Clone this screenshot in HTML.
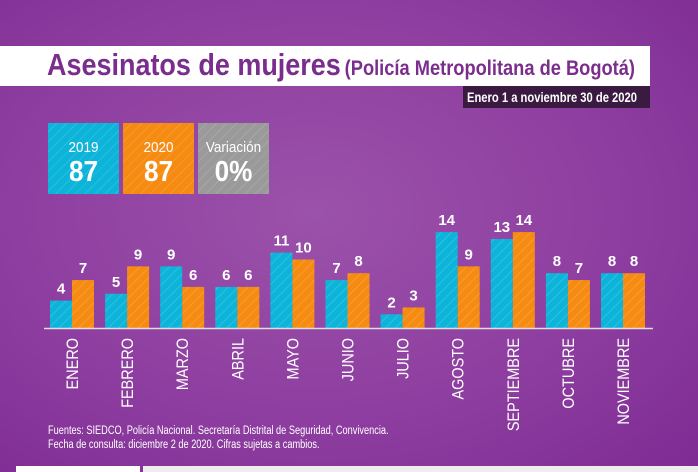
<!DOCTYPE html>
<html><head><meta charset="utf-8"><style>
body{margin:0;width:698px;height:472px;overflow:hidden;font-family:"Liberation Sans",sans-serif;}
#bg{position:absolute;left:0;top:0;width:698px;height:472px;background:radial-gradient(ellipse at 45% 45%,#9b52aa 0%,#8e3ea0 55%,#7e2b93 100%);}
.abs{position:absolute}
.box{position:absolute;top:123px;width:71px;height:71px;color:#fff;text-align:center;background-image:repeating-linear-gradient(135deg,rgba(255,255,255,0) 0 6px,rgba(255,255,255,0.12) 6px 7px);}
.box .y{font-size:15px;margin-top:16px;transform:scaleX(0.9)}
.box .v{font-size:29px;font-weight:bold;margin-top:0px;transform:scaleX(0.9)}
</style></head><body>
<div id="bg"></div>
<div class="abs" style="left:0;top:46px;width:650px;height:40px;background:#fff"></div>
<div class="abs" style="left:47px;top:47px;width:620px;white-space:nowrap;color:#7b2d8e;transform:scaleX(0.87);transform-origin:left;">
<span style="font-size:31px;font-weight:bold">Asesinatos de mujeres</span> <span style="font-size:21px;font-weight:bold">(Policía Metropolitana de Bogotá)</span></div>
<div class="abs" style="left:463px;top:86px;width:187px;height:22px;background:#3b1a42;color:#fff;font-size:14px;font-weight:bold;line-height:22px;white-space:nowrap;"><span style="display:inline-block;transform:scaleX(0.8);transform-origin:left;margin-left:4px">Enero 1 a noviembre 30 de 2020</span></div>
<div class="box" style="left:48px;background-color:#0db4d9"><div class="y">2019</div><div class="v">87</div></div>
<div class="box" style="left:123px;background-color:#f68b12"><div class="y">2020</div><div class="v">87</div></div>
<div class="box" style="left:198px;background-color:#9a9a9a"><div class="y">Variación</div><div class="v">0%</div></div>
<svg class="abs" style="left:0;top:0" width="698" height="472" id="chart">
<defs><pattern id="hatch" width="7" height="7" patternUnits="userSpaceOnUse" patternTransform="rotate(45)"><rect width="1" height="7" fill="rgba(255,255,255,0.15)"/></pattern></defs>
</svg>
<div class="abs" style="left:48px;top:424px;color:#fff;font-size:11.5px;line-height:14px;white-space:nowrap;transform:scaleX(0.8);transform-origin:left;">Fuentes: SIEDCO, Policía Nacional. Secretaría Distrital de Seguridad, Convivencia.<br>Fecha de consulta: diciembre 2 de 2020. Cifras sujetas a cambios.</div>
<div class="abs" style="left:16px;top:466px;width:124px;height:6px;background:#fff"></div>
<div class="abs" style="left:143px;top:466px;width:555px;height:6px;background:#eee"></div>
<script>
const months=["ENERO","FEBRERO","MARZO","ABRIL","MAYO","JUNIO","JULIO","AGOSTO","SEPTIEMBRE","OCTUBRE","NOVIEMBRE"];
const v2019=[4,5,9,6,11,7,2,14,13,8,8];
const v2020=[7,9,6,6,10,8,3,9,14,7,8];
const svg=document.getElementById('chart');
const NS='http://www.w3.org/2000/svg';
const base=328, unit=6.85, x0=50, pitch=55.1, bw=22;
function y(v){return base-v*unit;}
function gx(i){return x0+i*pitch;}
function el(t,a){const e=document.createElementNS(NS,t);for(const k in a)e.setAttribute(k,a[k]);svg.appendChild(e);return e;}
months.forEach((m,i)=>{
 [[v2019[i],'#0db4d9',0,'2019'],[v2020[i],'#f68b12',bw,'2020']].forEach(([v,c,off,yr])=>{
  const r=el('rect',{x:gx(i)+off,y:y(v),width:bw,height:v*unit,fill:c});
  
  
  const h=el('rect',{x:gx(i)+off,y:y(v),width:bw,height:v*unit,fill:'url(#hatch)'});
  
  
  const t=el('text',{x:gx(i)+off+bw/2,y:y(v)-7,'text-anchor':'middle',fill:'#fff','font-size':'15','font-weight':'bold','font-family':'Liberation Sans, sans-serif'});
  t.textContent=v;
  
  
 });
 const cx=gx(i)+bw+6;
 const l=el('text',{x:0,y:0,'text-anchor':'end',fill:'#fff','font-size':'17','font-family':'Liberation Sans, sans-serif',transform:`translate(${cx},338) rotate(-90) scale(0.85,1)`});
 l.textContent=m;
 
 
});
const ax=el('line',{x1:44,x2:653,y1:base+0.5,y2:base+0.5,stroke:'#ddd','stroke-width':1.5});


</script>
</body></html>
